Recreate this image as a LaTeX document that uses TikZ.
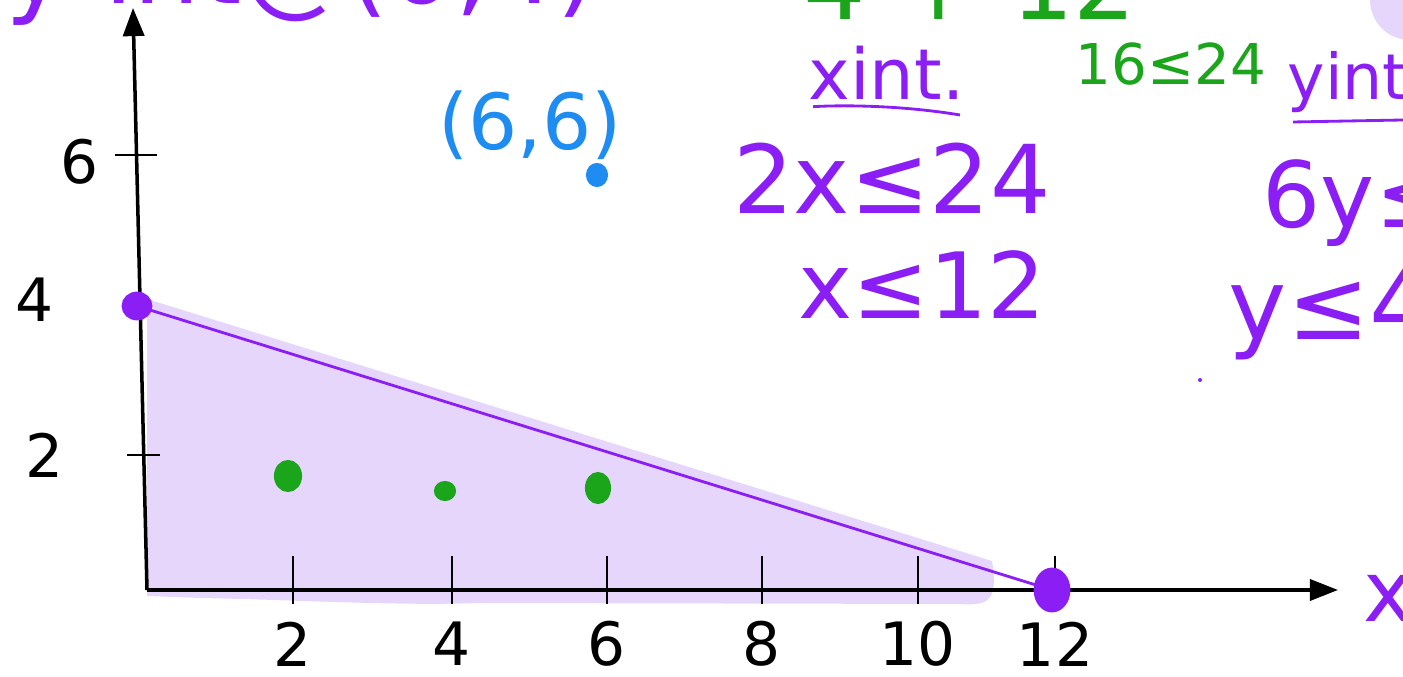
\documentclass[tikz,border=0pt]{standalone}
\usepackage{fontspec}
\setmainfont{DejaVu Sans}
\usetikzlibrary{arrows.meta, shapes.geometric}
\definecolor{inkpurple}{HTML}{8A1EF5}
\definecolor{regioncol}{HTML}{E7D6FC}
\definecolor{inkgreen}{HTML}{1AA51A}
\definecolor{inkblue} {HTML}{1E8CF0}
\tikzset{
  axis/.style={line width=1pt, black, -{Triangle[length=8pt,width=6pt]}},
  tickmark/.style={line width=0.5pt, black},
  ticklbl/.style={font=\fontsize{17}{19}\selectfont, inner sep=0pt},
  pnote/.style={text=inkpurple, inner sep=0pt},
  gnote/.style={text=inkgreen, inner sep=0pt},
  bnote/.style={text=inkblue, inner sep=0pt},
  pdot/.style={ellipse, fill=inkpurple, draw=inkpurple, line width=0.8pt, inner sep=0pt},
  gdot/.style={ellipse, fill=inkgreen, draw=inkgreen, line width=0.6pt, inner sep=0pt},
  bdot/.style={ellipse, fill=inkblue, draw=inkblue, line width=0.6pt, inner sep=0pt},
}

\begin{document}
\begin{tikzpicture}[x=0.01cm, y=-0.01cm]
  \useasboundingbox (0,0) rectangle (1403,677);
  \clip (0,0) rectangle (1403,677);
  % feasible region
  \fill[regioncol] (147,299) -- (992,561) .. controls (998,600) and (990,606) .. (960,604)
    -- (480,603) .. controls (400,606) and (300,600) .. (200,598) -- (147,596) -- cycle;
  \fill[regioncol] (1410,0) circle (40);
  % axes
  \coordinate (O) at (147,590);
  \coordinate (ytip) at (133,8);
  \coordinate (xtip) at (1338,590);
  \draw[axis] (O) -- (ytip);
  \draw[axis] (O) -- (xtip);
  % x ticks
  \foreach \x/\v in {293/2, 452/4, 607/6, 762/8, 918/10, 1055/12} {
    \draw[tickmark] (\x,556) -- (\x,604);
    \node[ticklbl] (x\v) at (\x,644) {\v};
  }
  % y ticks
  \draw[tickmark] (115,155) -- (157,155);
  \draw[tickmark] (127,455) -- (160,455);
  \node[ticklbl] (y6) at (80,162) {6};
  \node[ticklbl] (y4) at (35,300) {4};
  \node[ticklbl] (y2) at (45,455) {2};
  % boundary and corner points
  \node[pdot, minimum width=0.28cm, minimum height=0.26cm] (p04) at (137,306) {};
  \node[pdot, minimum width=0.34cm, minimum height=0.42cm] (p120) at (1052,590) {};
  \draw[inkpurple, line width=0.8pt] (p04.center) -- (p120.center);
  % test points
  \node[gdot, minimum width=0.26cm, minimum height=0.3cm] (g1) at (288,476) {};
  \node[gdot, minimum width=0.2cm, minimum height=0.18cm] (g2) at (445,491) {};
  \node[gdot, minimum width=0.24cm, minimum height=0.3cm] (g3) at (598,488) {};
  \node[bdot, minimum width=0.2cm, minimum height=0.22cm] (b66) at (597,175) {};
  \node[bnote, font=\fontsize{22}{24}\selectfont] (l66) at (530,125) {(6,6)};
  % notes
  \node[pnote, anchor=base west, font=\fontsize{30}{32}\selectfont] (yhead) at (5,4) {y-int@(0,4)};
  \node[gnote, anchor=base, font=\fontsize{28}{30}\selectfont] (gtop) at (970,20) {4 + 12};
  \node[gnote, anchor=base west, font=\fontsize{16}{18}\selectfont] (g1624) at (1075,85) {16≤24};
  \node[pnote, anchor=base west, font=\fontsize{20}{22}\selectfont] (xint) at (808,100) {xint.};
  \draw[inkpurple, line width=0.8pt] (xint.south west) ++(5,6) .. controls (840,105) and (900,105) .. (960,115);
  \node[pnote, font=\fontsize{27}{29}\selectfont] (xeq1) at (892,178) {2x≤24};
  \node[pnote, font=\fontsize{26}{28}\selectfont] (xeq2) at (922,285) {x≤12};
  \node[pnote, anchor=base west, font=\fontsize{18}{20}\selectfont] (yint) at (1287,100) {yint};
  \draw[inkpurple, line width=0.8pt] (1293,122) -- (1403,120);
  \node[pnote, anchor=base west, font=\fontsize{26}{28}\selectfont] (yeq1) at (1262,228) {6y≤24};
  \node[pnote, anchor=base west, font=\fontsize{28}{30}\selectfont] (yeq2) at (1228,340) {y≤4};
  \fill[inkpurple] (1200,380) circle (2);
  \node[pnote, font=\fontsize{24}{26}\selectfont] (xlbl) at (1388,598) {x};
\end{tikzpicture}
\end{document}
